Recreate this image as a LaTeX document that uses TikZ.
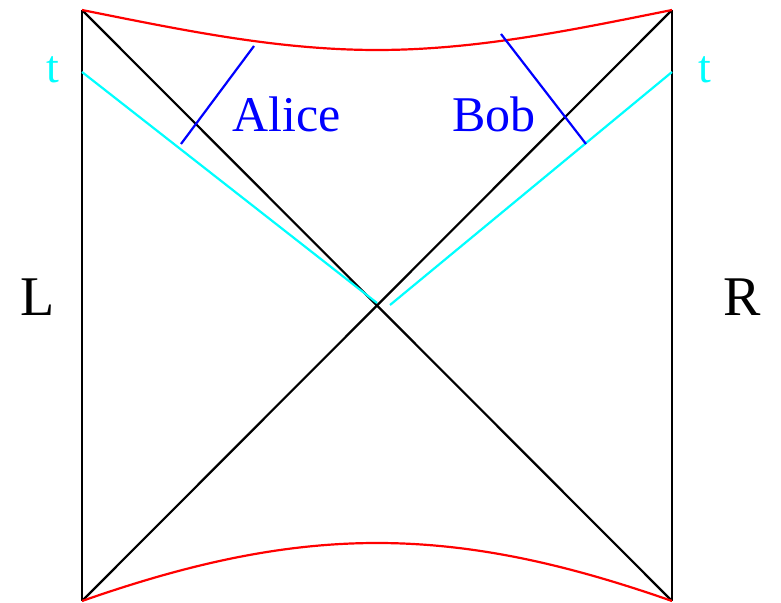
\documentclass[tikz,border=0pt]{standalone}
\usepackage{fontspec}
\setmainfont{Liberation Serif}
\newfontfamily\timesfont{Liberation Serif}
\definecolor{hred}{RGB}{255,0,0}
\definecolor{hcyan}{RGB}{0,255,255}
\definecolor{hblue}{RGB}{0,0,255}
\tikzset{
  edge/.style={hred},
  slice/.style={hcyan},
  worldline/.style={hblue},
  big/.style={font=\timesfont\fontsize{28}{32}\selectfont},
  mid/.style={font=\timesfont\fontsize{25}{30}\selectfont},
  small/.style={font=\timesfont\fontsize{23}{27}\selectfont}
}
\begin{document}
\begin{tikzpicture}[x=0.5pt,y=-0.5pt,line width=1.1pt]
\useasboundingbox (0,0) rectangle (781,603);
\coordinate (tl) at (82,10);
\coordinate (tr) at (672,10);
\coordinate (bl) at (82,601);
\coordinate (br) at (672,601);
\coordinate (tL) at (82,72);
\coordinate (tR) at (672,72);
\coordinate (oL) at (377,303);
\coordinate (oR) at (390,305);
\coordinate (a1) at (254,46);
\coordinate (a2) at (181,144);
\coordinate (b1) at (501,34);
\coordinate (b2) at (586,144);

\draw (tl) -- (bl);
\draw (tr) -- (br);
\draw (tl) -- (br);
\draw (tr) -- (bl);
\draw[edge] (tl) .. controls (182,30) and (277,50) .. (377,50) .. controls (477,50) and (572,30) .. (tr);
\draw[edge] (bl) .. controls (182,566) and (277,543) .. (377,543) .. controls (477,543) and (572,566) .. (br);
\draw[slice] (tL) -- (oL);
\draw[slice] (tR) -- (oR);
\draw[worldline] (a1) -- (a2);
\draw[worldline] (b1) -- (b2);

\node[big,anchor=base] (l) at (38,316) {L};
\node[big,anchor=base] (r) at (742,316) {R};
\node[small,anchor=base,hcyan] (tleft) at (53,83) {t};
\node[small,anchor=base,hcyan] (tright) at (705,83) {t};
\node[mid,anchor=base,hblue] (alice) at (287,132) {Alice};
\node[mid,anchor=base,hblue] (bob) at (494,132) {Bob};
\end{tikzpicture}
\end{document}
